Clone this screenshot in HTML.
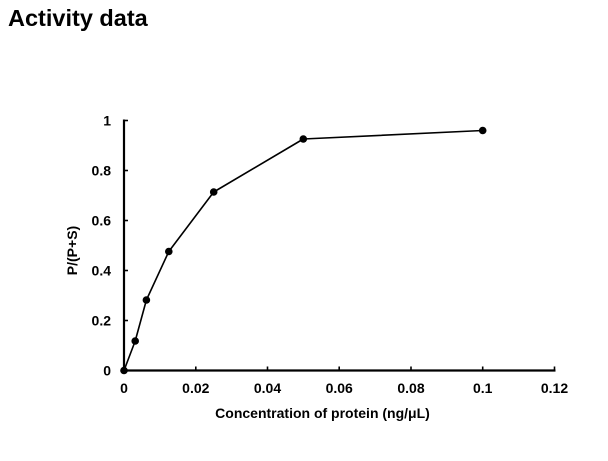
<!DOCTYPE html>
<html>
<head>
<meta charset="utf-8">
<style>
html,body{margin:0;padding:0;background:#fff;}
body{width:608px;height:461px;overflow:hidden;}
svg{display:block;}
text{font-family:"Liberation Sans",Arial,sans-serif;font-weight:bold;fill:#000;}
</style>
</head>
<body>
<svg width="608" height="461" viewBox="0 0 608 461" xmlns="http://www.w3.org/2000/svg">
  <text x="8" y="26" font-size="23.5">Activity data</text>

  <!-- axes -->
  <line x1="124" y1="119.5" x2="124" y2="371.5" stroke="#000" stroke-width="2.2"/>
  <line x1="123" y1="370.5" x2="555.5" y2="370.5" stroke="#000" stroke-width="2.2"/>

  <!-- y ticks (inward) -->
  <g stroke="#000" stroke-width="1.6">
    <line x1="124" y1="120.5" x2="128" y2="120.5"/>
    <line x1="124" y1="170.5" x2="128" y2="170.5"/>
    <line x1="124" y1="220.5" x2="128" y2="220.5"/>
    <line x1="124" y1="270.5" x2="128" y2="270.5"/>
    <line x1="124" y1="320.5" x2="128" y2="320.5"/>
  </g>
  <!-- x ticks (inward) -->
  <g stroke="#000" stroke-width="1.6">
    <line x1="195.8" y1="370.5" x2="195.8" y2="366.5"/>
    <line x1="267.5" y1="370.5" x2="267.5" y2="366.5"/>
    <line x1="339.2" y1="370.5" x2="339.2" y2="366.5"/>
    <line x1="411" y1="370.5" x2="411" y2="366.5"/>
    <line x1="482.7" y1="370.5" x2="482.7" y2="366.5"/>
    <line x1="554.5" y1="370.5" x2="554.5" y2="366.5"/>
  </g>

  <!-- y tick labels -->
  <g font-size="14" text-anchor="end">
    <text x="111" y="125.5">1</text>
    <text x="111" y="175.5">0.8</text>
    <text x="111" y="225.5">0.6</text>
    <text x="111" y="275.5">0.4</text>
    <text x="111" y="325.5">0.2</text>
    <text x="111" y="375.5">0</text>
  </g>
  <!-- x tick labels -->
  <g font-size="14" text-anchor="middle">
    <text x="124" y="393">0</text>
    <text x="195.8" y="393">0.02</text>
    <text x="267.5" y="393">0.04</text>
    <text x="339.2" y="393">0.06</text>
    <text x="411" y="393">0.08</text>
    <text x="482.7" y="393">0.1</text>
    <text x="554.5" y="393">0.12</text>
  </g>

  <text x="322.5" y="418" font-size="14" text-anchor="middle">Concentration of protein (ng/μL)</text>
  <text transform="translate(77,250.5) rotate(-90)" font-size="14" text-anchor="middle">P/(P+S)</text>

  <!-- series -->
  <polyline fill="none" stroke="#000" stroke-width="1.6" stroke-linejoin="round"
    points="124,370.5 135.2,341 146.4,300 168.8,251.5 213.7,192 303.3,139 482.7,130.5"/>
  <g fill="#000">
    <circle cx="124" cy="370.5" r="3.8"/>
    <circle cx="135.2" cy="341" r="3.8"/>
    <circle cx="146.4" cy="300" r="3.8"/>
    <circle cx="168.8" cy="251.5" r="3.8"/>
    <circle cx="213.7" cy="192" r="3.8"/>
    <circle cx="303.3" cy="139" r="3.8"/>
    <circle cx="482.7" cy="130.5" r="3.8"/>
  </g>
</svg>
</body>
</html>
